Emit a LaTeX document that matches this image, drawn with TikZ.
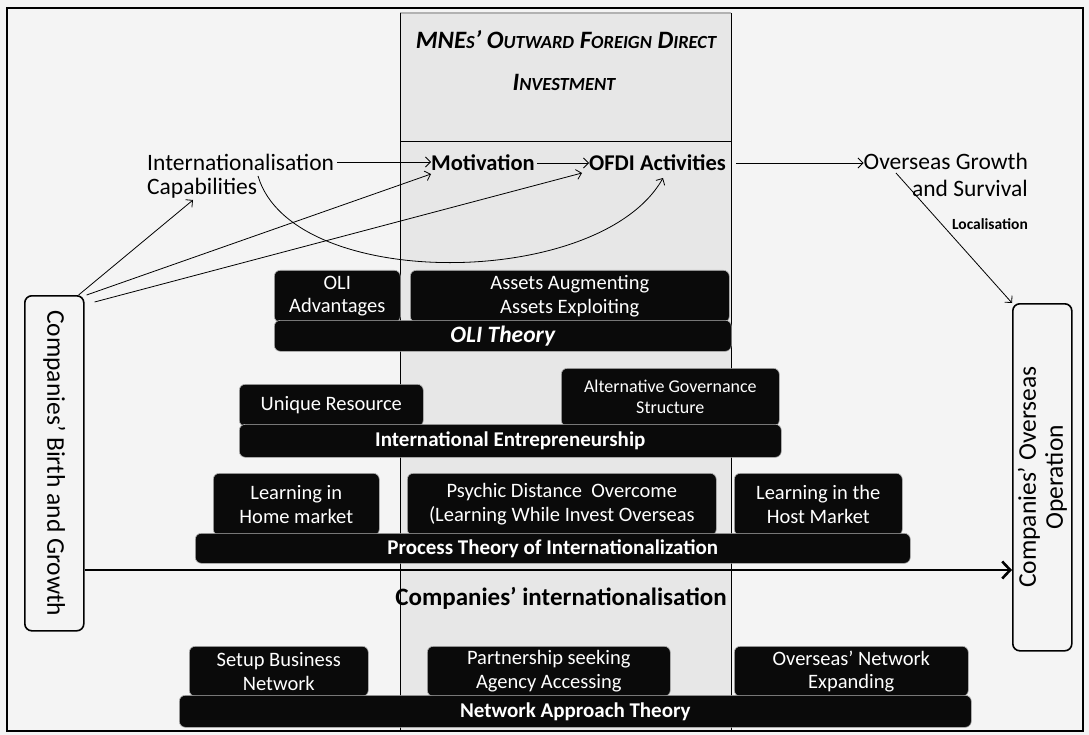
\documentclass[tikz,border=0pt]{standalone}
\usepackage{fontspec}
\setmainfont{Carlito}
\usetikzlibrary{arrows.meta}
\definecolor{pagebg}{RGB}{244,244,244}
\definecolor{colbg}{RGB}{231,231,231}
\definecolor{boxbg}{RGB}{10,10,10}
\newcommand\fsz[2]{\fontsize{#1}{#2}\selectfont}
\newcommand\smc[1]{{\fontsize{18.5}{22}\selectfont #1}}
\begin{document}
\begin{tikzpicture}[x=1pt,y=-1pt,
  tip/.style={-{Straight Barb[length=5pt,width=10pt]}, line width=0.8pt},
  lbl/.style={inner sep=0pt, font={\fsz{23.5}{26}}},
  blbl/.style={inner sep=0pt, font={\bfseries\fsz{22.5}{26}}},
  blk/.style={fill=boxbg, draw=gray!60, line width=0.6pt, rounded corners=6pt,
    text=white, align=center, inner sep=0pt, anchor=north west, font={\fsz{20.5}{23.5}}},
  barbox/.style={blk, font={\bfseries\fsz{21}{24}}},
  sidebox/.style={draw=black, line width=1.6pt, fill=pagebg, rounded corners=7pt,
    inner sep=0pt, anchor=north west},
  sidetext/.style={inner sep=0pt, align=center, font={\fsz{25.5}{27}}}
]
\useasboundingbox (0,0) rectangle (1089,735);
\fill[pagebg] (0,0) rectangle (1089,735);

% central OFDI column
\fill[colbg] (400,13) rectangle (731,731);
\draw[gray!60, line width=1.2pt] (400,13) -- (731,13);
\draw[line width=0.8pt] (400,13) -- (400,731) (731,13) -- (731,731);
\draw[line width=1pt] (400,142) -- (731,142);

% outer frame
\draw[line width=1.5pt] (7,8) rectangle (1083,731);

% column heading
\node[inner sep=0pt, font={\bfseries\itshape\fsz{25}{28}}] (ttla) at (566,40)
  {MNE\smc{S}’ O\smc{UTWARD} F\smc{OREIGN} D\smc{IRECT}};
\node[inner sep=0pt, font={\bfseries\itshape\fsz{25}{28}}] (ttlb) at (564,82)
  {I\smc{NVESTMENT}};

% top row of stages
\node[lbl, anchor=west] (intl) at (147,162) {Internationalisation};
\node[lbl, anchor=west] (capab) at (147,188) {Capabilities};
\node[blbl, anchor=west] (motiv) at (431,163) {Motivation};
\node[blbl, anchor=west] (ofdi) at (589,163) {OFDI Activities};
\node[lbl, anchor=east] (ogs) at (1028,161) {Overseas Growth};
\node[lbl, anchor=east] (surv) at (1028,188) {and Survival};
\node[inner sep=0pt, anchor=east, font={\bfseries\fsz{15.5}{18}}] (locl) at (1028,224) {Localisation};

% side boxes
\node[sidebox, minimum width=59pt, minimum height=335pt] (lbox) at (24,295) {};
\node[sidetext, rotate=-90] (lboxtext) at (lbox.center) {Companies' Birth and Growth};
\node[sidebox, minimum width=59pt, minimum height=347pt] (rbox) at (1012,303) {};
\node[sidetext, rotate=90] (rboxtext) at (rbox.center) {Companies' Overseas\\Operation};

% arrow end points
\coordinate (cvA) at (258,176);
\coordinate (cvB) at (663,178);
\coordinate (capArr) at (193,200);
\coordinate (motArr) at (431,174);
\coordinate (ofdiArr) at (582,173);
\coordinate (ogsArr) at (896,173);
\coordinate (thk) at (0,570);

% connectors along the top row
\draw[tip] ([xshift=3pt]intl.east) -- (intl.east -| motiv.west);
\draw[tip] ([xshift=2pt]motiv.east) -- (motiv.east -| ofdi.west);
\draw[tip] ([xshift=10pt]ofdi.east) -- (ofdi.east -| ogs.west);
\draw[tip] (cvA) .. controls (292,292) and (600,290) .. (cvB);
\draw[tip] ([xshift=-6pt]lbox.north east) -- (capArr);
\draw[tip] ([xshift=2pt]lbox.north east) -- (motArr);
\draw[tip] ([xshift=10pt,yshift=-7pt]lbox.north east) -- (ofdiArr);
\draw[tip] (ogsArr) -- (rbox.north west);

% main growth arrow
\draw[line width=2.6pt, -{Straight Barb[length=8pt,width=17pt]}] (lbox.east |- thk) -- (rbox.west |- thk);
\node[inner sep=0pt, font={\bfseries\fsz{25}{28}}] (cint) at (561,598) {Companies’ internationalisation};

% OLI theory
\node[blk, minimum width=126pt, minimum height=52pt] (oliadv) at (274,270) {OLI\\Advantages};
\node[blk, minimum width=319pt, minimum height=52pt] (assets) at (410,270) {Assets Augmenting\\Assets Exploiting};
\node[barbox, minimum width=457pt, minimum height=31pt, font={\bfseries\itshape\fsz{23.5}{26}}] (olith) at (274,320) {OLI Theory};

% international entrepreneurship
\node[blk, minimum width=184pt, minimum height=42pt] (uniq) at (239,384) {Unique Resource};
\node[blk, minimum width=218pt, minimum height=58pt, font={\fsz{18}{21}}] (altgov) at (561,368) {Alternative Governance\\Structure};
\node[barbox, minimum width=542pt, minimum height=33pt] (ient) at (239,424) {International Entrepreneurship};

% process theory
\node[blk, minimum width=166pt, minimum height=62pt] (lhome) at (213,473) {Learning in\\Home market};
\node[blk, minimum width=309pt, minimum height=62pt] (psych) at (407,473) {Psychic Distance\ \ Overcome\\(Learning While Invest Overseas};
\node[blk, minimum width=168pt, minimum height=62pt] (lhost) at (734,473) {Learning in the\\Host Market};
\node[barbox, minimum width=715pt, minimum height=30pt] (proc) at (195,533) {Process Theory of Internationalization};

% network approach
\node[blk, minimum width=179pt, minimum height=50pt] (setup) at (189,646) {Setup Business\\Network};
\node[blk, minimum width=243pt, minimum height=50pt] (partner) at (427,646) {Partnership seeking\\Agency Accessing};
\node[blk, minimum width=234pt, minimum height=50pt] (onet) at (734,646) {Overseas’ Network\\Expanding};
\node[barbox, minimum width=792pt, minimum height=32pt] (nat) at (179,695) {Network Approach Theory};
\end{tikzpicture}
\end{document}
